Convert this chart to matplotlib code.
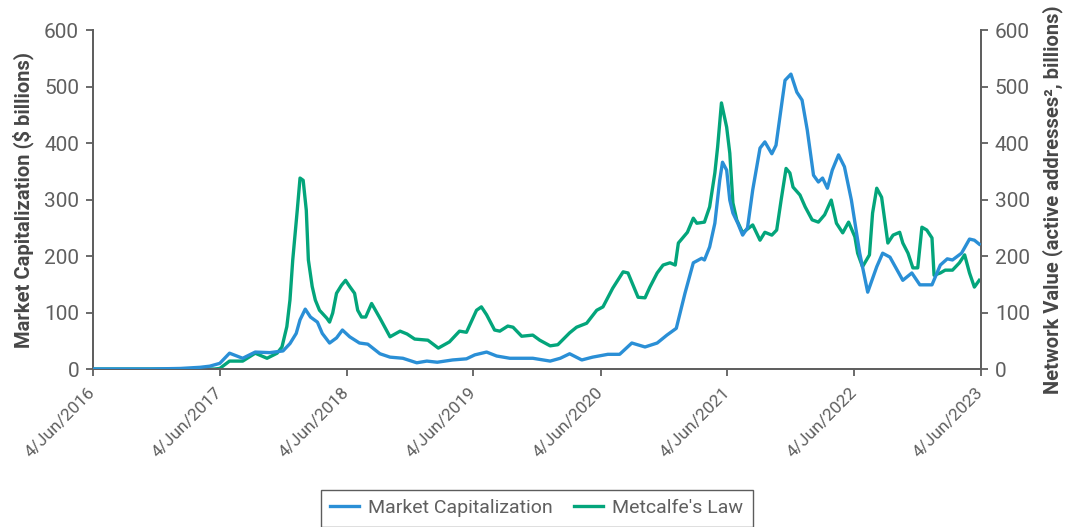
import matplotlib
matplotlib.use("Agg")
import matplotlib.pyplot as plt
import pandas as pd

# Market capitalization ($ billions)
cap_dates = [
    "2016-06-04", "2016-11-16", "2017-02-11", "2017-04-08", "2017-05-06", "2017-06-04",
    "2017-07-02", "2017-08-09", "2017-09-14", "2017-10-26", "2017-12-03", "2017-12-23",
    "2018-01-10", "2018-01-21", "2018-02-05", "2018-02-20", "2018-03-12", "2018-03-26",
    "2018-04-16", "2018-05-06", "2018-05-23", "2018-06-13", "2018-07-11", "2018-08-04",
    "2018-09-08", "2018-10-07", "2018-11-13", "2018-12-23", "2019-01-21", "2019-02-20",
    "2019-04-05", "2019-05-15", "2019-06-08", "2019-07-12", "2019-08-10", "2019-09-17",
    "2019-11-22", "2020-01-11", "2020-02-09", "2020-03-07", "2020-04-11", "2020-05-12",
    "2020-06-25", "2020-07-29", "2020-09-02", "2020-10-10", "2020-11-14", "2020-12-12",
    "2021-01-08", "2021-02-02", "2021-02-26", "2021-03-22", "2021-03-30", "2021-04-14",
    "2021-04-29", "2021-05-13", "2021-05-21", "2021-06-02", "2021-06-11", "2021-06-20",
    "2021-07-04", "2021-07-18", "2021-08-01", "2021-08-16", "2021-09-06", "2021-09-20",
    "2021-10-10", "2021-10-22", "2021-11-09", "2021-11-17", "2021-12-04", "2021-12-21",
    "2022-01-05", "2022-01-20", "2022-02-07", "2022-02-21", "2022-03-05", "2022-03-19",
    "2022-04-02", "2022-04-20", "2022-05-07", "2022-05-27", "2022-06-20", "2022-07-13",
    "2022-08-08", "2022-08-25", "2022-09-15", "2022-10-22", "2022-11-17", "2022-12-10",
    "2023-01-14", "2023-02-07", "2023-02-27", "2023-03-14", "2023-04-09", "2023-05-02",
    "2023-05-16", "2023-05-30",
]
cap_values = [
    0, 0, 1, 3, 5, 10,
    28, 19, 30, 29, 32, 45,
    63, 87, 106, 92, 83, 63,
    46, 55, 69, 57, 46, 44,
    27, 21, 19, 11, 14, 12,
    16, 18, 25, 30, 23, 19,
    19, 14, 19, 27, 16, 21,
    26, 26, 46, 39, 46, 60,
    72, 134, 188, 196, 193, 216,
    258, 334, 366, 352, 299, 276,
    258, 237, 250, 317, 391, 402,
    381, 396, 476, 511, 522, 490,
    476, 423, 343, 331, 338, 320,
    352, 379, 358, 299, 205, 136,
    181, 205, 198, 157, 170, 149,
    149, 184, 195, 193, 205, 230,
    228, 221,
]

# Metcalfe's law network value (active addresses^2, billions)
net_dates = [
    "2016-06-04", "2017-05-20", "2017-06-04", "2017-07-02", "2017-08-09", "2017-09-14",
    "2017-10-18", "2017-11-16", "2017-11-30", "2017-12-14", "2017-12-23", "2017-12-31",
    "2018-01-13", "2018-01-21", "2018-01-30", "2018-02-08", "2018-02-14", "2018-02-25",
    "2018-03-06", "2018-03-18", "2018-04-08", "2018-04-16", "2018-04-25", "2018-05-06",
    "2018-05-20", "2018-06-01", "2018-06-13", "2018-06-27", "2018-07-06", "2018-07-17",
    "2018-07-29", "2018-08-15", "2018-09-08", "2018-10-07", "2018-11-05", "2018-11-25",
    "2018-12-17", "2019-01-24", "2019-02-23", "2019-03-27", "2019-04-25", "2019-05-15",
    "2019-06-13", "2019-06-27", "2019-07-12", "2019-08-04", "2019-08-19", "2019-09-11",
    "2019-09-26", "2019-10-21", "2019-11-22", "2019-12-12", "2020-01-11", "2020-02-02",
    "2020-03-07", "2020-03-27", "2020-04-25", "2020-05-24", "2020-06-11", "2020-07-09",
    "2020-08-08", "2020-08-22", "2020-09-20", "2020-10-10", "2020-10-24", "2020-11-14",
    "2020-12-01", "2020-12-21", "2021-01-05", "2021-01-14", "2021-02-09", "2021-02-26",
    "2021-03-08", "2021-03-30", "2021-04-14", "2021-04-29", "2021-05-07", "2021-05-18",
    "2021-06-02", "2021-06-11", "2021-06-20", "2021-07-01", "2021-07-18", "2021-08-16",
    "2021-09-06", "2021-09-20", "2021-10-10", "2021-10-24", "2021-11-06", "2021-11-20",
    "2021-12-01", "2021-12-10", "2021-12-30", "2022-01-14", "2022-02-03", "2022-02-21",
    "2022-03-11", "2022-03-30", "2022-04-14", "2022-05-02", "2022-05-19", "2022-06-06",
    "2022-06-14", "2022-06-28", "2022-07-18", "2022-07-27", "2022-08-08", "2022-08-22",
    "2022-08-31", "2022-09-09", "2022-09-24", "2022-10-13", "2022-10-22", "2022-11-06",
    "2022-11-20", "2022-12-04", "2022-12-16", "2022-12-30", "2023-01-14", "2023-01-20",
    "2023-02-07", "2023-02-21", "2023-03-14", "2023-04-03", "2023-04-18", "2023-05-02",
    "2023-05-16", "2023-05-30",
]
net_values = [
    0, 0, 1, 14, 14, 28,
    19, 28, 39, 75, 122, 193,
    281, 338, 334, 281, 193, 146,
    122, 104, 90, 83, 99, 134,
    148, 157, 146, 134, 104, 92,
    92, 116, 90, 57, 67, 62,
    53, 51, 37, 48, 67, 65,
    104, 110, 96, 69, 67, 76,
    74, 58, 60, 51, 41, 43,
    64, 74, 81, 104, 110, 143,
    172, 170, 127, 126, 145, 170,
    184, 188, 184, 223, 242, 267,
    258, 260, 287, 347, 393, 471,
    428, 382, 294, 264, 241, 255,
    228, 242, 237, 246, 300, 355,
    347, 322, 308, 287, 264, 260,
    273, 299, 258, 241, 260, 234,
    205, 181, 202, 276, 320, 304,
    264, 223, 237, 242, 223, 205,
    179, 179, 251, 246, 232, 166,
    170, 175, 175, 188, 202, 170,
    145, 157,
]

tick_dates = ["2016-06-04", "2017-06-04", "2018-06-04", "2019-06-04",
              "2020-06-04", "2021-06-04", "2022-06-04", "2023-06-04"]
tick_labels = ["4/Jun/2016", "4/Jun/2017", "4/Jun/2018", "4/Jun/2019",
               "4/Jun/2020", "4/Jun/2021", "4/Jun/2022", "4/Jun/2023"]
y_ticks = [0, 100, 200, 300, 400, 500, 600]

plt.rcParams['font.family'] = ['Roboto', 'DejaVu Sans']
grey = '#5f5f5f'
blue = '#2a8fd6'
green = '#03a57b'

fig = plt.figure(figsize=(10.65, 5.27), dpi=100)
ax = fig.add_axes([0.0873, 0.2998, 0.8338, 0.6432])
ax2 = ax.twinx()

l1, = ax.plot(pd.to_datetime(cap_dates), cap_values, color=blue, lw=2.4,
              label="Market Capitalization", zorder=3)
l2, = ax2.plot(pd.to_datetime(net_dates), net_values, color=green, lw=2.4,
               label="Metcalfe's Law", zorder=2)
ax.set_zorder(ax2.get_zorder() + 1)
ax.patch.set_visible(False)

for a in (ax, ax2):
    a.set_ylim(0, 600)
    a.set_yticks(y_ticks)
    a.set_xlim(pd.Timestamp(tick_dates[0]), pd.Timestamp(tick_dates[-1]))
    a.spines['top'].set_visible(False)
    for s in ('left', 'right', 'bottom'):
        a.spines[s].set_color(grey)
        a.spines[s].set_linewidth(1.3)
    a.tick_params(axis='both', colors=grey, labelsize=15, length=5, width=1.3)

ax.set_xticks(pd.to_datetime(tick_dates))
ax.set_xticklabels(tick_labels, rotation=45, ha='right', va='center',
                   rotation_mode='anchor', fontsize=12.5, color=grey)
ax.tick_params(axis='x', pad=10)
ax.tick_params(axis='y', pad=5)
ax2.tick_params(axis='y', pad=5)

ax.set_ylabel("Market Capitalization ($ billions)", fontsize=14.5, fontweight='bold',
              color='#474747', labelpad=7)
ax2.set_ylabel("Network Value (active addresses², billions)", fontsize=14.5,
               fontweight='bold', color='#474747', labelpad=9)

leg = fig.legend(handles=[l1, l2], loc='upper center', bbox_to_anchor=(0.504, 0.071),
                 ncol=2, frameon=True, fancybox=False, fontsize=14,
                 handlelength=1.5, handletextpad=0.45, columnspacing=1.1,
                 borderpad=0.5, borderaxespad=0)
leg.get_frame().set_edgecolor('#333333')
leg.get_frame().set_linewidth(1.0)
for t in leg.get_texts():
    t.set_color(grey)

fig.savefig("out.png", dpi=100)
